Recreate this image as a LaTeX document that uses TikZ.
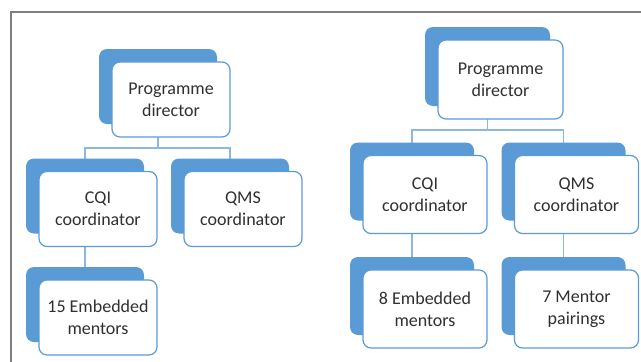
\documentclass[tikz,border=0pt]{standalone}
\usepackage{fontspec}
\setmainfont{Carlito}
\usepackage{xcolor}
\usepackage{tikz}
\usetikzlibrary{backgrounds}

\definecolor{orgblue}{HTML}{5B9BD5}
\definecolor{linkblue}{HTML}{8DB6E0}
\definecolor{framegray}{HTML}{7F7F7F}
\definecolor{textgray}{HTML}{303030}

\tikzset{
  card/.style={draw=orgblue, line width=1.2pt, fill=white, rounded corners=8pt,
    inner sep=0pt, align=center, text=textgray, font=\fontsize{18}{22}\selectfont},
  cardback/.style={fill=orgblue, rounded corners=8pt, inner sep=0pt},
  lefttree/.style={minimum width=118pt, minimum height=75pt},
  righttree/.style={minimum width=124pt, minimum height=78pt},
  link/.style={draw=linkblue, line width=1.2pt},
}

% style, name, position, text: box with its blue backing card
\newcommand{\orgbox}[4]{%
  \node[cardback,#1] (#2b) at ([shift={(-13,-13)}]#3) {};
  \node[card,#1] (#2) at (#3) {#4};
}

\begin{document}
\begin{tikzpicture}[x=1pt, y=-1pt]
  \useasboundingbox (0,0) rectangle (641,362);
  \draw[framegray, line width=1.5pt] (11,362) -- (11,12) -- (641,12);

  % first structure
  \orgbox{lefttree}{pd1}{171,99.5}{Programme\\director}
  \orgbox{lefttree}{cqi1}{98,209}{CQI\\coordinator}
  \orgbox{lefttree}{qms1}{243,209}{QMS\\coordinator}
  \orgbox{lefttree}{emb1}{98,317.5}{15 Embedded\\mentors}

  % second structure
  \orgbox{righttree, minimum width=125pt, minimum height=79pt}{pd2}{500.5,79.5}{Programme\\director}
  \orgbox{righttree}{cqi2}{425,194.5}{CQI\\coordinator}
  \orgbox{righttree}{qms2}{576.5,194.5}{QMS\\coordinator}
  \orgbox{righttree}{emb2}{425,309}{8 Embedded\\mentors}
  \orgbox{righttree}{men2}{576.5,309}{7 Mentor\\pairings}

  \coordinate (bus1) at (158,148);
  \coordinate (bus2) at (487.5,130);
  \begin{scope}[on background layer]
    \draw[link] (pd1b.center) -- (bus1) -| (cqi1b.center);
    \draw[link] (bus1) -| (qms1b.center);
    \draw[link] (cqi1b.center) -- (emb1b.center);
    \draw[link] (pd2b.center) -- (bus2) -| (cqi2b.center);
    \draw[link] (bus2) -| (qms2b.center);
    \draw[link] (cqi2b.center) -- (emb2b.center);
    \draw[link] (qms2b.center) -- (men2b.center);
  \end{scope}
\end{tikzpicture}
\end{document}
